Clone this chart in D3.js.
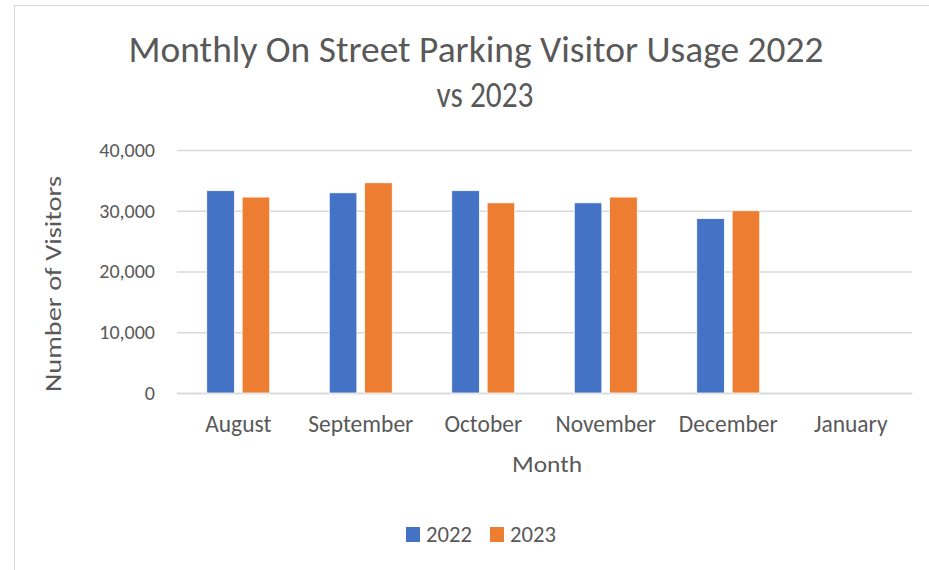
<!DOCTYPE html>
<html>
<head>
<meta charset="utf-8">
<script src="https://cdn.jsdelivr.net/npm/d3@7"></script>
<style>
  html, body { margin: 0; padding: 0; background: #fff; }
  svg text { font-family: Carlito, "Liberation Sans", Arial, sans-serif; fill: #595959; }
</style>
</head>
<body>
<svg id="chart" width="929" height="570"></svg>
<script>
// Chart data
var months = ["August", "September", "October", "November", "December", "January"];
var years = ["2022", "2023"];
var visitors2022 = [33300, 32950, 33300, 31300, 28700, null];
var visitors2023 = [32250, 34600, 31300, 32250, 30000, null];
var yTicks = [0, 10000, 20000, 30000, 40000];
var colors = ["#4472c4", "#ed7d31"];

var width = 929, height = 570;
var margin = {top: 150, right: 17, bottom: 177, left: 177};

var svg = d3.select("#chart");

// outer chart border
svg.append("rect")
    .attr("x", 14.5).attr("y", 5.5)
    .attr("width", width).attr("height", height)
    .attr("fill", "none").attr("stroke", "#d9d9d9").attr("stroke-width", 1);

// squeeze text to the width seen in the picture
function fit(sel, w) {
    sel.attr("textLength", w).attr("lengthAdjust", "spacingAndGlyphs");
    return sel;
}

var x0 = d3.scaleBand()
    .domain(months)
    .range([margin.left, width - margin.right])
    .paddingInner(0.486)
    .paddingOuter(0.243);

var x1 = d3.scaleBand()
    .domain(years)
    .range([0, x0.bandwidth()])
    .paddingInner(0.22);

var y = d3.scaleLinear()
    .domain([0, 40000])
    .range([height - margin.bottom, margin.top]);

// gridlines + y labels
var yAxis = d3.axisLeft(y)
    .tickValues(yTicks)
    .tickSize(-(width - margin.right - margin.left))
    .tickPadding(22)
    .tickFormat(d3.format(","));

var gy = svg.append("g")
    .attr("transform", "translate(" + margin.left + ",0)")
    .call(yAxis);
gy.select(".domain").remove();
gy.selectAll(".tick line").attr("stroke", "#d9d9d9").attr("stroke-width", 1.5);
gy.selectAll(".tick text")
    .style("font-size", "20px")
    .attr("fill", "#595959");

// x axis
var xAxis = d3.axisBottom(x0).tickSize(0).tickPadding(0);
var gx = svg.append("g")
    .attr("transform", "translate(0," + y(0) + ")")
    .call(xAxis);
gx.select(".domain").attr("stroke", "#d9d9d9").attr("stroke-width", 1.5);
gx.selectAll(".tick text")
    .style("font-size", "23.5px")
    .attr("y", 39)
    .attr("dy", 0)
    .attr("fill", "#595959");

// bars
var series = [visitors2022, visitors2023];
years.forEach(function (yr, k) {
    svg.append("g")
        .selectAll("rect")
        .data(months.map(function (m, i) { return {month: m, value: series[k][i]}; })
            .filter(function (d) { return d.value != null; }))
        .enter().append("rect")
        .attr("x", function (d) { return x0(d.month) + x1(yr); })
        .attr("y", function (d) { return y(d.value); })
        .attr("width", x1.bandwidth())
        .attr("height", function (d) { return y(0) - y(d.value); })
        .attr("fill", colors[k])
        .attr("stroke", "#fff")
        .attr("stroke-width", 0.75);
});

// title
fit(svg.append("text")
    .attr("x", 476).attr("y", 62)
    .attr("text-anchor", "middle")
    .style("font-size", "36px")
    .text("Monthly On Street Parking Visitor Usage 2022"), 695);
fit(svg.append("text")
    .attr("x", 485).attr("y", 107)
    .attr("text-anchor", "middle")
    .style("font-size", "36px")
    .text("vs 2023"), 97);

// axis titles
fit(svg.append("text")
    .attr("x", 547).attr("y", 472)
    .attr("text-anchor", "middle")
    .style("font-size", "23px")
    .text("Month"), 70);

fit(svg.append("text")
    .attr("transform", "translate(61,284) rotate(-90)")
    .attr("text-anchor", "middle")
    .style("font-size", "23px")
    .text("Number of Visitors"), 216);

// legend
var legendX = [406, 490];
years.forEach(function (yr, k) {
    svg.append("rect")
        .attr("x", legendX[k]).attr("y", 527)
        .attr("width", 14).attr("height", 15)
        .attr("fill", colors[k]);
    fit(svg.append("text")
        .attr("x", legendX[k] + 20).attr("y", 542)
        .style("font-size", "22px")
        .text(yr), 46);
});
</script>
</body>
</html>
